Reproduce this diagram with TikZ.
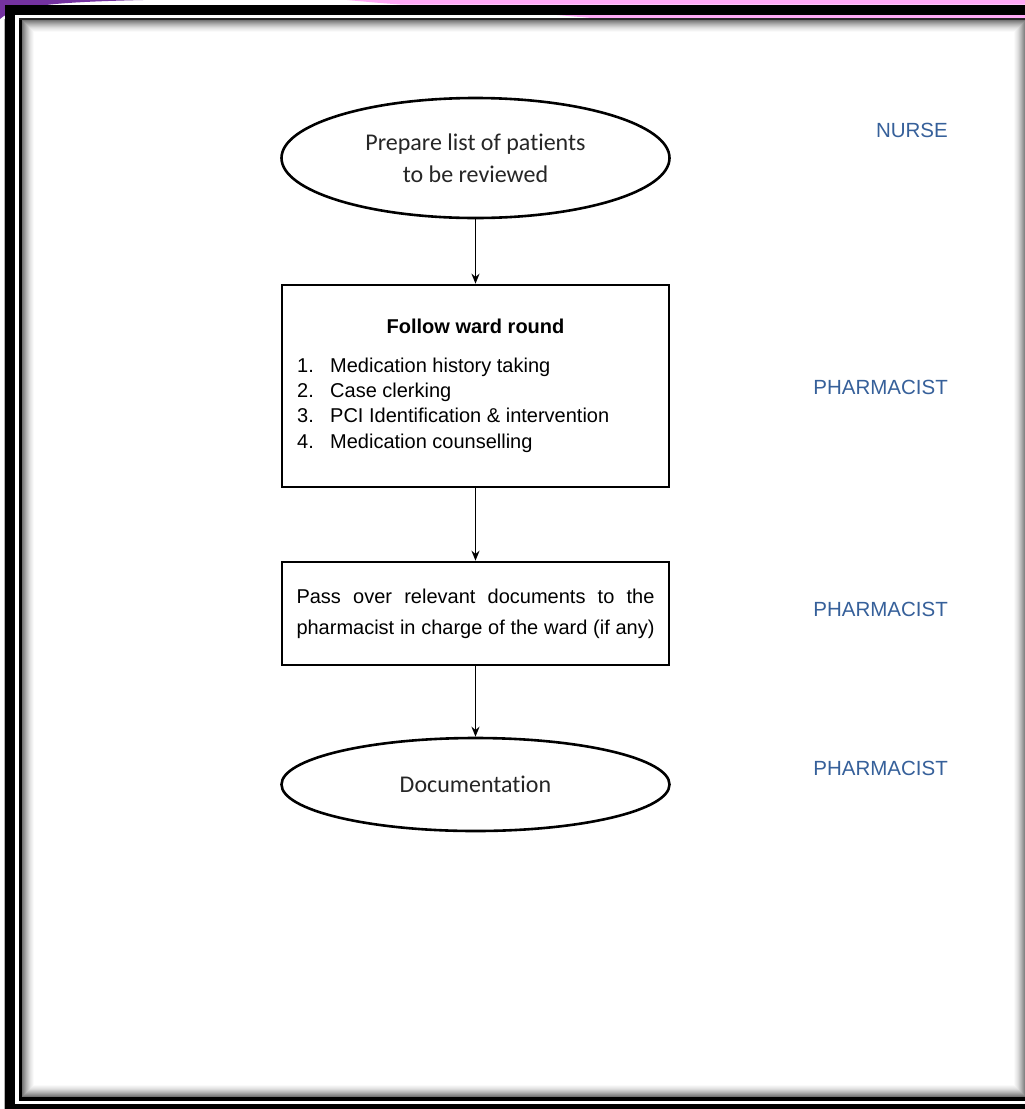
\documentclass[tikz,border=0pt]{standalone}
\usepackage{fontspec}
\setmainfont{Liberation Sans}
\newfontfamily\calfont[Ligatures=NoCommon]{Carlito}
\usetikzlibrary{shapes.geometric,arrows.meta}

\definecolor{rolecol}{HTML}{36609A}
\definecolor{framepurple}{HTML}{7432A0}
\definecolor{framepink}{HTML}{FFAAF6}

\tikzset{
  flowline/.style={line width=2.6pt, draw=black},
  terminal/.style={flowline, ellipse, inner sep=0pt, align=center,
    font=\calfont\fontsize{24}{32}\selectfont, text=black!85},
  stepbox/.style={flowline, rectangle, inner sep=0pt},
  boxtext/.style={inner sep=0pt, font=\fontsize{20}{25.3}\selectfont},
  role/.style={inner sep=0pt, anchor=east, text=rolecol,
    font=\fontsize{20.5}{24}\selectfont},
  flowarrow/.style={line width=1.8pt, -{Stealth[length=10pt,width=8pt]}}
}

\begin{document}
\begin{tikzpicture}[x=1pt,y=-1pt]
\useasboundingbox (0,0) rectangle (1025,1109);
\fill[white] (0,0) rectangle (1025,1109);

% page frame: coloured corner strips, thick outer border, thin inner border
\fill[framepurple] (0,0) -- (143,0) .. controls (60,2) and (15,5) .. (0,19) -- cycle;
\fill[framepink] (347,0) -- (1025,0) -- (1025,4.5) -- (400,4.5) .. controls (380,3) .. (347,0) -- cycle;
\draw[black!30, line width=0.8pt] (4.4,1109) -- (4.4,19);
\fill[black] (5,4.5) rectangle (1025,15);
\fill[black] (5,4.5) rectangle (15,1109);
\fill[black] (5,1104) rectangle (1025,1109);
\fill[framepink] (557,15) -- (1025,15) -- (1025,18.3) -- (595,18.3) .. controls (580,17) .. (557,15) -- cycle;

% inner shadow of the page area
\foreach \i in {0,...,12}{
  \pgfmathtruncatemacro\shadeval{55*(1-\i/13)^1.6}
  \draw[black!\shadeval, line width=1.05pt] (22.5+\i,20.5+\i) rectangle (1025.5-\i,1096.5-\i);
}
\fill[black] (19,18.3) rectangle (22,1101);
\fill[black!85] (19,18.3) rectangle (1025,20.3);
\fill[black] (19,1097) rectangle (1025,1101);

% flow chart
\node[terminal, minimum width=388pt, minimum height=120pt] (prep) at (475.5,158)
  {Prepare list of patients\\to be reviewed};

\node[stepbox, minimum width=387pt, minimum height=202pt] (round) at (475.5,386) {};
\node[boxtext, font=\bfseries\fontsize{20}{25.3}\selectfont] (roundtitle) at (475.5,326) {Follow ward round};
\node[boxtext, anchor=west, align=left] (roundlist) at (297,405)
  {\makebox[33pt][l]{1.}Medication history taking\\
   \makebox[33pt][l]{2.}Case clerking\\
   \makebox[33pt][l]{3.}PCI Identification \& intervention\\
   \makebox[33pt][l]{4.}Medication counselling};

\node[stepbox, minimum width=387pt, minimum height=103pt, align=left,
  font=\fontsize{20}{31}\selectfont] (pass) at (475.5,613.5)
  {\makebox[358pt][s]{Pass over relevant documents to the}\\
   \makebox[358pt][s]{pharmacist in charge of the ward (if any)}};

\node[terminal, minimum width=388pt, minimum height=93pt] (doc) at (475.5,784.5)
  {Documentation};

\draw[flowarrow] (prep.south) -- (round.north);
\draw[flowarrow] (round.south) -- (pass.north);
\draw[flowarrow] (pass.south) -- (doc.north);

% responsible roles
\node[role] (r1) at (948,130) {NURSE};
\node[role] (r2) at (948,387) {PHARMACIST};
\node[role] (r3) at (948,609) {PHARMACIST};
\node[role] (r4) at (948,768) {PHARMACIST};
\end{tikzpicture}
\end{document}
